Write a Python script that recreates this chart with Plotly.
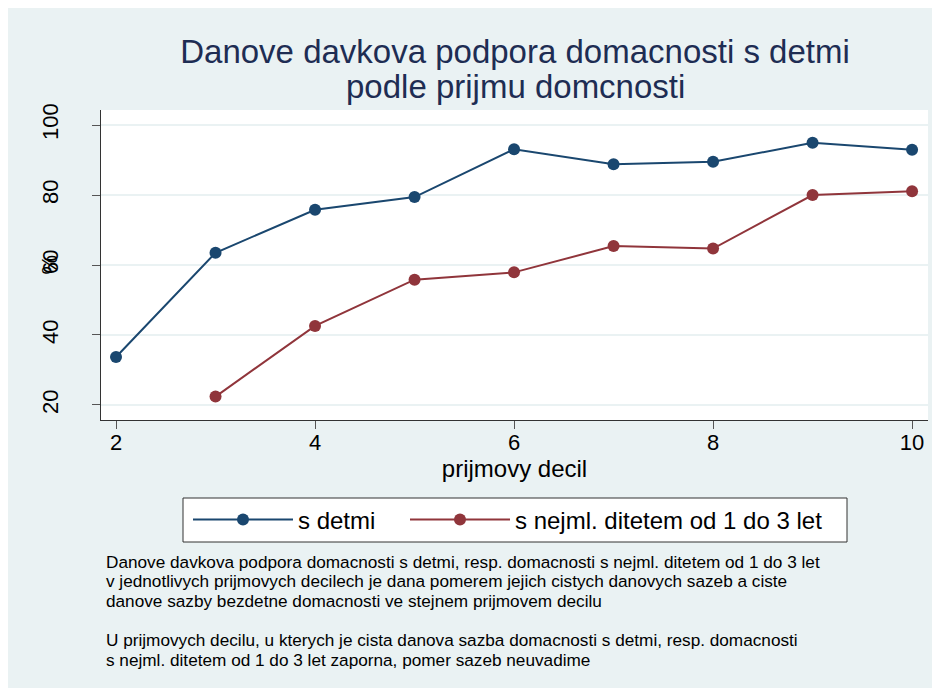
import plotly.graph_objects as go

deciles = [2, 3, 4, 5, 6, 7, 8, 9, 10]
s_detmi = [33.7, 63.5, 75.8, 79.4, 93.1, 88.8, 89.5, 94.9, 92.9]
deciles_small = [3, 4, 5, 6, 7, 8, 9, 10]
s_nejml = [22.4, 42.6, 55.8, 57.9, 65.4, 64.7, 80.0, 81.1]

x_ticks = [2, 4, 6, 8, 10]
y_ticks = [20, 40, 60, 80, 100]

title_line1 = "Danove davkova podpora domacnosti s detmi"
title_line2 = "podle prijmu domcnosti"
note_lines = [
    "Danove davkova podpora domacnosti s detmi, resp. domacnosti s nejml. ditetem od 1 do 3 let",
    "v jednotlivych prijmovych decilech je dana pomerem jejich cistych danovych sazeb a ciste",
    "danove sazby bezdetne domacnosti ve stejnem prijmovem decilu",
    "",
    "U prijmovych decilu, u kterych je cista danova sazba domacnosti s detmi, resp. domacnosti",
    "s nejml. ditetem od 1 do 3 let zaporna, pomer sazeb neuvadime",
]

BG = "#EAF2F3"
BLUE = "#1A476F"
RED = "#90353B"
FONT = "Liberation Sans, Arial, sans-serif"

W, H = 932, 680
L, R, T, B = 93, 12, 102, 268
pw = W - L - R
ph = H - T - B

def px(xp):
    return (xp - L) / pw

def py(yp):
    return (H - B - yp) / ph

fig = go.Figure()
fig.add_trace(go.Scatter(x=deciles, y=s_detmi, mode="lines+markers", name="s detmi",
                         line=dict(color=BLUE, width=2), marker=dict(color=BLUE, size=12),
                         legend="legend"))
fig.add_trace(go.Scatter(x=deciles_small, y=s_nejml, mode="lines+markers",
                         name="s nejml. ditetem od 1 do 3 let",
                         line=dict(color=RED, width=2), marker=dict(color=RED, size=12),
                         legend="legend2"))

leg_common = dict(orientation="h", xanchor="left", yanchor="middle", y=py(512),
                  font=dict(size=24, color="black"), bgcolor="rgba(0,0,0,0)",
                  borderwidth=0, itemwidth=100)

fig.update_layout(
    width=W, height=H,
    margin=dict(l=L, r=R, t=T, b=B),
    paper_bgcolor=BG, plot_bgcolor="white",
    font=dict(family=FONT, color="black"),
    title=dict(text=title_line1, x=507 / W, xanchor="center", xref="container",
               y=1 - 43 / H, yanchor="middle", yref="container",
               font=dict(size=33, color="#1E2D53")),
    showlegend=True,
    legend=dict(x=px(180), **leg_common),
    legend2=dict(x=px(397), **leg_common),
    xaxis=dict(range=[1.849, 10.16], tickvals=x_ticks, ticks="outside", ticklen=8,
               tickcolor="#555555", showline=True, linecolor="#333333", linewidth=1,
               showgrid=False, zeroline=False, tickfont=dict(size=22),
               ticklabelstandoff=-5,
               title=dict(text="prijmovy decil", font=dict(size=24), standoff=5)),
    yaxis=dict(range=[15.71, 104.29], tickvals=y_ticks, ticks="outside", ticklen=8,
               tickcolor="#555555", showline=True, linecolor="#333333", linewidth=1,
               showgrid=True, gridcolor=BG, gridwidth=2, zeroline=False,
               tickangle=-90, tickfont=dict(size=22), ticklabelstandoff=25),
)

fig.add_annotation(text=title_line2, xref="paper", yref="paper", x=px(507), y=py(78),
                   xanchor="center", yanchor="middle", showarrow=False,
                   font=dict(size=33, color="#1E2D53"))

# legend box
fig.add_shape(type="rect", xref="paper", yref="paper", x0=px(175), x1=px(839),
              y0=py(534), y1=py(490), line=dict(color="#333333", width=1),
              fillcolor="white", layer="below")

# y axis title overlapping tick label, as in the original
fig.add_annotation(text="%", xref="paper", yref="paper", x=px(40.5), y=0.5,
                   xanchor="center", yanchor="middle", textangle=-90, showarrow=False,
                   font=dict(size=22, color="black"))

note_centers = [553.7, 573.3, 592.9, 612.5, 632.1, 651.7]
for line, yc in zip(note_lines, note_centers):
    if not line:
        continue
    fig.add_annotation(text=line, xref="paper", yref="paper", x=px(95.5), y=py(yc),
                       xanchor="left", yanchor="middle", align="left", showarrow=False,
                       font=dict(size=17.2, color="black"))

fig.write_html("out.html")
